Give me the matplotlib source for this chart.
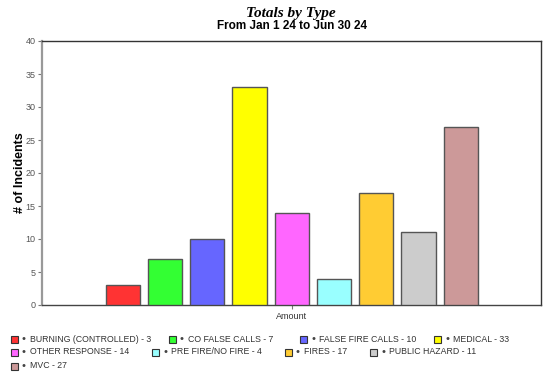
import matplotlib
matplotlib.use("Agg")
import matplotlib.pyplot as plt
from matplotlib.patches import Rectangle

categories = ["BURNING (CONTROLLED)", "CO FALSE CALLS", "FALSE FIRE CALLS", "MEDICAL",
              "OTHER RESPONSE", "PRE FIRE/NO FIRE", "FIRES", "PUBLIC HAZARD", "MVC"]
values = [3, 7, 10, 33, 14, 4, 17, 11, 27]
colors = ["#FF3333", "#33FF33", "#6666FF", "#FFFF00", "#FF66FF", "#99FFFF",
          "#FFCC33", "#CCCCCC", "#CC9999"]
yticks = [0, 5, 10, 15, 20, 25, 30, 35, 40]

plt.rcParams['font.family'] = ['Liberation Sans', 'DejaVu Sans']

W, H = 548, 373
fig = plt.figure(figsize=(W/100, H/100), dpi=100)
ax = fig.add_axes([42/W, 1-305/H, (541-42)/W, (305-41)/H])

x = list(range(len(values)))
ax.bar(x, values, width=0.81, color=colors, edgecolor="#555555", linewidth=1.0, zorder=3)
ax.set_xlim(-1.91, 9.9)
ax.set_ylim(0, 40)
ax.set_yticks(yticks)
ax.set_yticklabels([str(t) for t in yticks], fontsize=6.5, color="#555555")
ax.set_xticks([4])
ax.set_xticklabels(["Amount"], fontsize=6.5, color="#333333")
ax.tick_params(axis='y', length=3, width=0.8, color="#777777", pad=1.5)
ax.tick_params(axis='x', length=3, width=0.8, color="#777777", pad=2)
ax.spines['left'].set_color("#999999")
ax.spines['left'].set_linewidth(1.6)
ax.spines['bottom'].set_color("#444444")
ax.spines['bottom'].set_linewidth(1.0)
ax.spines['top'].set_color("#333333")
ax.spines['top'].set_linewidth(1.0)
ax.spines['right'].set_color("#333333")
ax.spines['right'].set_linewidth(1.0)
ax.set_ylabel("# of Incidents", fontsize=9, fontweight='bold', labelpad=0)

fig.text(291/W, 1-13/H, "Totals by Type", ha='center', va='center',
         fontsize=11, fontweight='bold', fontstyle='italic',
         family=['Liberation Serif', 'DejaVu Serif'])
fig.text(292/W, 1-26/H, "From Jan 1 24 to Jun 30 24", ha='center', va='center',
         fontsize=8.5, fontweight='bold')

# legend (flow layout)
row_y = [339, 352, 366]
row_x = [[11, 169, 300, 434], [11, 152, 285, 370], [11]]
idx = 0
for r, xs in enumerate(row_x):
    for xp in xs:
        if idx >= len(values):
            break
        fig.patches.append(Rectangle((xp/W, 1-(row_y[r]+3.5)/H), 7/W, 7/H,
                                     facecolor=colors[idx], edgecolor="#333333",
                                     linewidth=0.8, transform=fig.transFigure))
        fig.text((xp+11)/W, 1-row_y[r]/H, "\u2022", ha='left', va='center',
                 fontsize=8.0, color="#444444")
        fig.text((xp+19)/W, 1-row_y[r]/H, f"{categories[idx]} - {values[idx]}",
                 ha='left', va='center', fontsize=6.3, color="#333333")
        idx += 1

fig.savefig("out.png", dpi=100)
